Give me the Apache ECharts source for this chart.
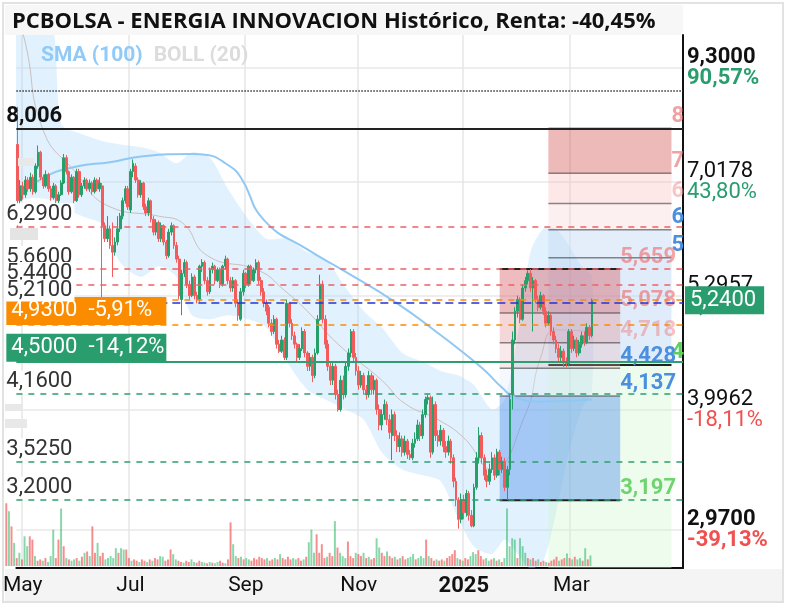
<!DOCTYPE html>
<html><head><meta charset="utf-8">
<script src="https://cdn.jsdelivr.net/npm/echarts@6/dist/echarts.min.js"></script>
<style>html,body{margin:0;padding:0;background:#fff}#c{width:786px;height:608px}</style>
</head><body><div id="c"></div>
<script>
// ---------- DATA ----------
const titleText = 'PCBOLSA - ENERGIA INNOVACION Histórico, Renta: -40,45%';
const startDate = [2024, 3, 29];
const holidays = ['2024-05-01', '2024-12-25', '2024-12-26', '2025-01-01'];
const totalSlots = 260;
const monthNames = {4: 'May', 6: 'Jul', 8: 'Sep', 10: 'Nov', 0: '2025', 2: 'Mar'};

// [open, close, low, high]
const ohlc = [
[7.70,6.70,6.10,8.45],[6.70,6.95,6.60,7.05],[6.95,6.80,6.72,7.02],[6.80,7.05,6.75,7.12],[7.05,6.90,6.85,7.10],
[6.90,7.10,6.85,7.18],[7.10,6.85,6.80,7.15],[6.85,7.30,6.82,7.35],[7.30,7.55,7.25,7.68],[7.55,7.10,7.05,7.58],
[7.10,6.95,6.90,7.15],[6.95,7.15,6.92,7.22],[7.15,6.90,6.85,7.18],[6.90,6.75,6.70,6.95],[6.75,6.95,6.72,7.00],
[6.95,6.70,6.65,6.98],[6.70,6.80,6.66,6.85],[6.80,7.00,6.78,7.05],[7.00,7.45,6.98,7.52],[7.45,7.20,7.15,7.50],
[7.20,6.85,6.80,7.22],[6.85,7.10,6.82,7.15],[7.10,6.70,6.65,7.12],[6.70,7.20,6.68,7.25],[7.20,6.80,6.75,7.25],
[6.80,6.95,6.76,7.00],[6.95,7.05,6.90,7.10],[7.05,6.90,6.86,7.08],[6.90,7.00,6.85,7.06],[7.00,6.85,6.80,7.03],
[6.85,7.05,6.82,7.10],[7.05,6.90,6.86,7.08],[6.90,7.00,6.85,7.10],[6.95,6.30,5.25,7.00],[6.30,6.10,6.05,6.35],
[6.10,6.25,6.05,6.45],[6.25,6.00,5.95,6.30],[6.00,5.90,5.55,6.35],[5.90,6.05,5.85,6.12],[6.05,6.25,6.00,6.45],
[6.25,6.45,6.20,6.50],[6.45,6.70,6.40,6.75],[6.70,6.90,6.65,6.95],[6.90,6.60,6.55,6.95],[6.55,7.20,6.50,7.25],
[7.20,7.35,7.10,7.42],[7.30,7.05,7.00,7.35],[7.05,6.80,6.75,7.10],[6.80,7.00,6.75,7.05],[7.00,6.60,6.55,7.02],
[6.60,6.50,6.45,6.65],[6.50,6.70,6.45,6.75],[6.70,6.40,6.35,6.72],[6.40,6.20,6.15,6.45],[6.20,6.35,6.15,6.40],
[6.35,6.10,6.05,6.38],[6.10,6.30,6.05,6.35],[6.30,6.05,6.00,6.32],[6.05,5.85,5.80,6.08],[5.85,6.20,5.82,6.25],
[6.20,6.30,6.15,6.35],[6.30,6.00,5.95,6.32],[6.00,5.80,5.75,6.05],[5.80,5.30,5.25,5.85],[5.25,5.60,5.05,5.65],
[5.60,5.75,5.55,5.80],[5.75,5.45,5.40,5.78],[5.45,5.30,5.25,5.50],[5.30,5.55,5.28,5.60],[5.55,5.30,5.25,5.58],
[5.30,5.25,5.20,5.35],[5.25,5.70,5.22,5.72],[5.70,5.75,5.62,5.80],[5.75,5.50,5.45,5.78],[5.50,5.35,5.30,5.55],
[5.35,5.65,5.32,5.68],[5.65,5.70,5.60,5.75],[5.70,5.50,5.45,5.72],[5.50,5.65,5.48,5.68],[5.65,5.45,5.40,5.68],
[5.45,5.70,5.42,5.72],[5.70,5.80,5.65,5.85],[5.80,5.50,5.45,5.82],[5.50,5.40,5.35,5.55],[5.40,5.50,5.35,5.55],
[5.50,5.20,5.15,5.52],[5.20,5.05,4.98,5.25],[5.00,5.35,4.98,5.40],[5.35,5.60,5.30,5.65],[5.60,5.45,5.40,5.62],
[5.45,5.70,5.42,5.72],[5.70,5.50,5.45,5.72],[5.50,5.65,5.48,5.68],[5.65,5.75,5.60,5.80],[5.75,5.50,5.45,5.78],
[5.50,5.35,5.30,5.55],[5.35,5.20,5.15,5.40],[5.20,5.10,5.05,5.25],[5.15,4.95,4.90,5.18],[4.95,4.85,4.80,5.00],
[4.85,5.00,4.82,5.05],[5.00,4.70,4.65,5.02],[4.70,4.62,4.60,4.75],[4.62,4.75,4.60,4.80],[4.75,4.55,4.52,4.78],
[4.55,5.20,4.52,5.25],[5.20,4.95,4.90,5.22],[4.95,4.80,4.75,5.00],[4.80,4.70,4.65,4.85],[4.70,4.55,4.50,4.72],
[4.55,4.65,4.52,4.70],[4.65,4.85,4.62,4.90],[4.85,4.60,4.55,4.88],[4.60,4.45,4.40,4.62],[4.45,4.55,4.40,4.60],
[4.55,4.35,4.28,4.58],[4.35,4.60,4.32,4.65],[4.60,5.00,4.58,5.05],[5.00,5.45,4.98,5.58],[5.45,5.00,4.95,5.50],
[5.00,4.70,4.65,5.05],[4.70,4.45,4.40,4.75],[4.45,4.30,4.25,4.50],[4.30,4.45,4.25,4.50],[4.45,4.15,4.10,4.48],
[4.15,4.00,3.98,4.20],[4.00,4.30,3.98,4.35],[4.30,4.15,4.10,4.35],[4.15,4.45,4.12,4.50],[4.45,4.60,4.40,4.65],
[4.60,4.85,4.55,4.88],[4.85,4.55,4.50,4.88],[4.55,4.40,4.35,4.60],[4.40,4.25,4.20,4.45],[4.25,4.35,4.22,4.40],
[4.35,4.20,4.15,4.38],[4.20,4.15,4.10,4.25],[4.15,4.35,4.12,4.40],[4.35,4.20,4.15,4.38],[4.20,4.30,4.15,4.35],
[4.30,4.00,3.95,4.32],[4.00,3.85,3.80,4.05],[3.85,3.95,3.80,4.00],[3.95,4.05,3.90,4.10],[4.05,3.90,3.85,4.08],
[3.90,3.78,3.72,3.95],[3.75,3.95,3.53,4.00],[3.95,3.75,3.70,3.98],[3.75,3.65,3.60,3.80],[3.65,3.72,3.60,3.78],
[3.72,3.60,3.56,3.75],[3.60,3.70,3.57,3.75],[3.70,3.58,3.54,3.72],[3.58,3.55,3.53,3.62],[3.55,3.68,3.53,3.72],
[3.68,3.72,3.64,3.78],[3.72,3.85,3.70,3.90],[3.85,3.75,3.70,3.88],[3.75,3.95,3.72,4.00],[3.95,4.10,3.92,4.13],
[4.10,4.12,4.05,4.15],[4.12,3.60,3.55,4.14],[3.60,4.05,3.58,4.13],[4.05,3.75,3.70,4.08],[3.75,3.70,3.65,3.80],
[3.70,3.80,3.66,3.85],[3.80,3.65,3.60,3.82],[3.65,3.60,3.55,3.70],[3.60,3.70,3.57,3.75],[3.70,3.55,3.50,3.72],
[3.55,3.35,3.30,3.58],[3.35,3.20,3.15,3.38],[3.20,3.05,2.98,3.22],[3.05,3.20,3.02,3.25],[3.20,3.10,3.05,3.24],
[3.10,3.25,3.07,3.28],[3.25,3.08,3.04,3.27],[3.08,3.00,2.99,3.12],[3.00,3.30,2.99,3.33],[3.30,3.55,3.28,3.60],
[3.55,3.75,3.50,3.83],[3.75,3.55,3.50,3.78],[3.55,3.40,3.36,3.58],[3.40,3.35,3.30,3.45],[3.35,3.45,3.32,3.50],
[3.45,3.55,3.42,3.60],[3.55,3.40,3.36,3.58],[3.40,3.60,3.38,3.63],[3.60,3.45,3.40,3.62],[3.45,3.52,3.42,3.56],
[3.52,3.30,3.27,3.55],[3.30,3.45,3.197,3.48],[3.45,4.10,3.40,4.15],[4.15,4.75,4.00,4.85],[4.75,5.10,4.70,5.15],
[5.10,5.25,5.02,5.30],[5.25,5.00,4.95,5.28],[5.00,5.40,4.98,5.45],[5.40,5.50,5.35,5.55],[5.50,5.60,5.45,5.64],
[5.60,5.40,5.35,5.659],[5.40,5.50,4.85,5.55],[5.50,5.25,5.20,5.52],[5.25,5.15,5.10,5.30],[5.15,5.30,5.12,5.35],
[5.30,5.10,5.05,5.32],[5.10,4.95,4.90,5.15],[4.95,5.05,4.92,5.10],[5.05,4.85,4.80,5.08],[4.85,4.75,4.70,4.90],
[4.75,4.65,4.60,4.80],[4.65,4.55,4.50,4.70],[4.55,4.62,4.50,4.68],[4.62,4.50,4.44,4.65],[4.50,4.48,4.44,4.55],
[4.48,4.85,4.45,4.88],[4.85,4.65,4.60,4.88],[4.65,4.75,4.62,4.80],[4.75,4.60,4.55,4.78],[4.60,4.70,4.57,4.75],
[4.70,4.80,4.66,4.85],[4.80,4.72,4.68,4.85],[4.72,4.90,4.70,4.95],[4.90,4.80,4.75,4.93],[4.80,5.24,4.78,5.26]
];

const volume = [
95,83,60,35,12,20,10,45,30,45,
40,15,8,10,8,12,6,15,55,12,
40,87,30,12,10,8,10,12,8,14,
20,22,15,60,20,35,15,20,10,12,
15,12,27,20,27,25,25,12,8,10,
8,6,10,8,6,10,8,12,10,15,
14,8,10,25,18,10,8,6,5,8,
6,10,6,5,8,6,5,4,6,5,
4,6,8,5,4,10,66,33,15,12,
14,10,12,10,8,12,10,14,12,10,
12,8,10,12,10,18,12,10,14,10,
12,10,12,8,10,14,36,55,20,48,
20,33,12,14,20,15,68,28,20,15,
12,37,15,12,20,18,15,20,12,14,
10,12,42,28,20,15,22,15,12,14,
10,12,15,10,12,14,18,10,12,15,
12,40,15,12,8,10,8,10,8,12,
15,18,24,12,10,8,12,10,15,21,
18,24,15,10,12,8,10,12,8,10,
6,12,87,30,42,40,12,42,30,20,
12,10,12,8,10,6,8,6,5,8,
10,14,8,10,12,19,12,10,14,10,
12,8,27,10,16
];

// indicator readings [slot index, price]
const sma100 = [[0,6.76],[10,7.09],[23,7.29],[36,7.37],[49,7.48],[68,7.52],[74,7.50],[81,7.35],[87,7.10],[96,6.39],[113,5.94],[127,5.64],[148,5.20],[164,4.83],[174,4.60],[182,4.41],[189,4.22],[194,4.12],[205,4.08],[224,4.10]];
const bollUpper = [[0,11],[13,10.5],[17,8.1],[25,7.9],[34,7.75],[40,7.7],[48,7.65],[55,7.55],[62,7.35],[68,7.55],[75,7.45],[82,6.9],[90,6.4],[97,6.1],[105,6.1],[113,5.9],[120,5.8],[128,5.4],[135,5.1],[142,4.9],[150,4.6],[158,4.5],[165,4.4],[172,4.35],[178,4.25],[185,4.0],[190,4.1],[195,4.8],[200,5.9],[205,6.25],[210,6.25],[215,6.0],[220,5.7],[224,5.55]];
const bollLower = [[0,6.75],[7,6.75],[14,6.7],[17,6.6],[25,6.45],[34,6.3],[40,5.75],[48,5.55],[55,5.7],[62,5.55],[68,5.05],[75,5.0],[82,5.05],[90,5.0],[97,4.9],[105,4.5],[113,4.2],[120,4.1],[128,4.0],[135,3.9],[142,3.6],[150,3.45],[158,3.4],[165,3.35],[172,3.05],[178,2.85],[185,2.8],[190,2.9],[195,2.8],[200,2.7],[205,2.75],[210,3.1],[215,3.6],[220,4.0],[224,4.2]];
const bollMid = [[0,10.5],[3,9.9],[10,7.97],[22,7.22],[36,6.6],[55,6.45],[64,6.35],[74,5.85],[94,5.64],[104,5.37],[113,5.1],[125,4.7],[142,4.3],[151,4.06],[164,3.9],[174,3.73],[185,3.45],[198,3.95],[204,4.55],[210,4.87],[224,4.85]];

// price levels
const blackLevel = 8.006;
const dottedLevel = 8.80;
const redLevels = [6.29, 5.66, 5.44];
const blueLevel = 5.21;
const greenLevels = [4.16, 3.525, 3.2];
const stopLevels = [4.93, 4.50];
const stopPct = ['-5,91%', '-14,12%'];
const lastPrice = 5.24;

// right axis ticks
const yTickVals = [2.97, 3.9962, 5.2957, 7.0178, 9.3];
const yTickPct = ['-39,13%', '-18,11%', '8,52%', '43,80%', '90,57%'];

// fibonacci tools: levels and slot ranges
const fibHighLevels = [8.006, 7.17, 6.654, 6.236, 5.818, 4.466];
const fibHighSlots = [206.6, 254.5];
const fibLowLevels = [5.659, 5.078, 4.718, 4.428, 4.137, 3.197];
const fibLowSlots = [188.2, 235.3];

// ---------- STYLES ----------
const GREEN = '#26a06b', RED = '#f25c5c', FONT = 'Roboto', FS = 22;
const fibHighBands = ['rgba(212,80,80,0.40)','rgba(248,180,180,0.32)','rgba(250,205,205,0.30)','rgba(200,222,246,0.50)','rgba(188,212,244,0.45)','rgba(205,245,205,0.35)'];
const fibHighLabelColors = ['rgba(230,100,100,0.6)','rgba(230,100,100,0.6)','rgba(240,150,150,0.55)','#4a8fe0','#4a8fe0','#5ccf5c'];
const fibLowBands = ['rgba(214,92,100,0.42)','rgba(225,130,140,0.32)','rgba(235,175,180,0.28)','rgba(225,235,245,0.35)','rgba(90,150,235,0.45)'];
const fibLowLabelColors = ['rgba(240,90,90,0.55)','rgba(240,90,90,0.55)','rgba(240,120,120,0.45)','#4a8fe0','#4a8fe0','#6fd36f'];

// ---------- BUILD ----------
const dates = [];
(function () {
  const d = new Date(Date.UTC(startDate[0], startDate[1], startDate[2]));
  while (dates.length < totalSlots) {
    const dow = d.getUTCDay();
    const s = d.toISOString().slice(0, 10);
    if (dow !== 0 && dow !== 6 && holidays.indexOf(s) < 0) dates.push(s);
    d.setUTCDate(d.getUTCDate() + 1);
  }
})();
const labelIdx = {};
for (let i = 1; i < 240; i++) {
  const m = +dates[i].slice(5, 7) - 1, pm = +dates[i - 1].slice(5, 7) - 1;
  if (m !== pm && monthNames[m] !== undefined) labelIdx[i] = monthNames[m];
}
const fmt = (v, n) => v.toFixed(n).replace('.', ',');

const volData = volume.map((v, i) => ({value: v, itemStyle: {color: ohlc[i][1] >= ohlc[i][0] ? 'rgba(38,180,100,0.55)' : 'rgba(242,92,92,0.7)'}}));

function labelLine(v, text, color, dash) {
  return {
    yAxis: v,
    lineStyle: {color: color, type: dash, width: 1.5},
    label: {show: true, position: 'insideStartTop', formatter: text, distance: [-12, 1],
      color: '#333', fontSize: FS, fontFamily: FONT, backgroundColor: '#fff', padding: [0, 2], lineHeight: 22}
  };
}
const marks = [];
marks.push({yAxis: dottedLevel, lineStyle: {color: '#333', type: 'dotted', width: 1.5}, label: {show: false}});
marks.push({yAxis: blackLevel, lineStyle: {color: '#222', type: 'solid', width: 2},
  label: {show: true, position: 'insideStartTop', formatter: fmt(blackLevel, 3), distance: [-10, 1], color: '#111', fontWeight: 'bold', fontSize: FS, fontFamily: FONT}});
redLevels.forEach(v => marks.push(labelLine(v, fmt(v, 4), '#f06060', [6, 6])));
greenLevels.forEach(v => marks.push(labelLine(v, fmt(v, 4), '#2e9e6e', [6, 6])));
marks.push({yAxis: stopLevels[1], lineStyle: {color: '#2e9e6e', type: 'solid', width: 2},
  label: {show: true, position: 'insideStartTop', formatter: fmt(stopLevels[1], 4) + '  ' + stopPct[1], distance: [-10, 0],
    color: '#fff', fontSize: FS, fontFamily: FONT, backgroundColor: '#2a9d6f', padding: [3, 5], width: 150, lineHeight: 22}});
marks.push({yAxis: stopLevels[0], lineStyle: {color: '#fb8c00', type: [6, 6], width: 1.5},
  label: {show: true, position: 'insideStartTop', formatter: fmt(stopLevels[0], 4) + '  ' + stopPct[0], distance: [-10, 0],
    color: '#fff', fontSize: FS, fontFamily: FONT, backgroundColor: '#fb8c00', padding: [3, 5], width: 150, lineHeight: 22}});
marks.push({yAxis: lastPrice, lineStyle: {color: '#fb8c00', type: [6, 6], width: 1.5},
  label: {show: true, position: 'end', formatter: fmt(lastPrice, 4), distance: 2,
    color: '#fff', fontSize: FS, fontFamily: FONT, backgroundColor: '#2a9d6f', padding: [3, 8, 3, 5], lineHeight: 22}});
marks.push(labelLine(blueLevel, fmt(blueLevel, 4), '#2233dd', [8, 5]));

function fibGroup(api, levels, slots, bands, labelColors, extendToMin) {
  const kids = [];
  const x0 = api.coord([slots[0], levels[0]])[0], x1 = api.coord([slots[1], levels[0]])[0];
  const ys = levels.map(v => api.coord([slots[0], v])[1]);
  if (extendToMin) ys.push(api.coord([slots[0], 2.704])[1]);
  for (let k = 0; k < ys.length - 1; k++) {
    kids.push({type: 'rect', shape: {x: x0, y: ys[k], width: x1 - x0, height: ys[k + 1] - ys[k]}, style: {fill: bands[k]}});
  }
  levels.forEach((v, k) => {
    const last = (k === 0 || k === levels.length - 1);
    kids.push({type: 'line', shape: {x1: x0, y1: ys[k], x2: x1, y2: ys[k]},
      style: {stroke: last ? '#222' : 'rgba(60,60,60,0.6)', lineWidth: last ? 2 : 1.5}});
    kids.push({type: 'text', x: x1, y: ys[k] - 1, style: {text: fmt(v, 3), fill: labelColors[k],
      font: 'bold ' + FS + 'px ' + FONT, align: 'left', verticalAlign: 'bottom'}});
  });
  return kids;
}

const option = {
  animation: false,
  backgroundColor: '#fff',
  title: {text: titleText, left: 7, top: 6, textStyle: {fontFamily: 'Open Sans', fontWeight: 'bold', fontSize: 22, color: '#111'}},
  legend: {left: 30, top: 40, itemWidth: 0, itemHeight: 0, itemGap: 6, selectedMode: false,
    textStyle: {fontSize: 21, fontWeight: 'bold', fontFamily: FONT},
    data: [{name: 'SMA (100)', textStyle: {color: '#90caf9'}}, {name: 'BOLL (20)', textStyle: {color: '#dcdcdc'}}]},
  graphic: [
    {type: 'rect', z: -10, shape: {x: 5, y: 5, width: 678, height: 30}, style: {fill: '#f7f7f7'}},
    {type: 'rect', z: -10, shape: {x: 5, y: 569, width: 778, height: 32}, style: {fill: '#f4f4f4'}},
    {type: 'rect', z: 100, shape: {x: 3, y: 3, width: 780, height: 599}, style: {fill: 'none', stroke: '#e2e2e2', lineWidth: 2}},
    {type: 'rect', z: 50, shape: {x: 10, y: 228, width: 28, height: 12}, style: {fill: '#e4e4e4'}},
    {type: 'rect', z: 50, shape: {x: 18, y: 158, width: 16, height: 8}, style: {fill: '#e8e8e8'}},
    {type: 'rect', z: 50, shape: {x: 5, y: 404, width: 18, height: 7}, style: {fill: '#e8e8e8'}},
    {type: 'rect', z: 50, shape: {x: 5, y: 419, width: 22, height: 9}, style: {fill: '#e8e8e8'}}
  ],
  grid: [
    {left: 5, right: 103, top: 35, bottom: 40},
    {left: 5, right: 103, top: 496, height: 70}
  ],
  xAxis: [
    {type: 'category', data: dates, gridIndex: 0, boundaryGap: true,
      axisLine: {lineStyle: {color: '#111', width: 2}}, axisTick: {show: false},
      axisLabel: {interval: (i) => labelIdx[i] !== undefined, margin: 7, color: '#111', fontSize: 21, fontFamily: FONT,
        alignMinLabel: 'center',
        formatter: (v, i) => labelIdx[i] === '2025' ? '{y|2025}' : (labelIdx[i] || ''),
        rich: {y: {fontWeight: 'bold', fontSize: 22, fontFamily: FONT, color: '#111'}}},
      splitLine: {show: true, interval: (i) => labelIdx[i] !== undefined, lineStyle: {color: '#e6e6e6', width: 1.5}}},
    {type: 'category', data: dates, gridIndex: 1, boundaryGap: true, show: false}
  ],
  yAxis: [
    {type: 'log', gridIndex: 0, position: 'right', min: 2.704, max: 10.09, logBase: 10,
      axisLine: {show: true, lineStyle: {color: '#111', width: 2}},
      axisTick: {show: false, customValues: yTickVals},
      splitLine: {show: true, lineStyle: {color: '#e8e8e8', width: 1.5}},
      axisLabel: {customValues: yTickVals, margin: 4, fontFamily: FONT,
        formatter: function (val) {
          let k = 0;
          yTickVals.forEach((t, j) => { if (Math.abs(t - val) < Math.abs(yTickVals[k] - val)) k = j; });
          const bold = (k === 0 || k === yTickVals.length - 1) ? 'b' : '';
          const pc = yTickPct[k].charAt(0) === '-' ? 'r' : 'g';
          return '{v' + bold + '|' + fmt(yTickVals[k], 4) + '}\n{' + pc + bold + '|' + yTickPct[k] + '}';
        },
        rich: {
          v: {fontSize: FS, color: '#111', fontFamily: FONT, lineHeight: 21},
          vb: {fontSize: FS, color: '#111', fontFamily: FONT, fontWeight: 'bold', lineHeight: 21},
          g: {fontSize: FS, color: '#2a9d6f', fontFamily: FONT, lineHeight: 21},
          gb: {fontSize: FS, color: '#2a9d6f', fontFamily: FONT, fontWeight: 'bold', lineHeight: 21},
          r: {fontSize: FS, color: '#f05050', fontFamily: FONT, lineHeight: 21},
          rb: {fontSize: FS, color: '#f05050', fontFamily: FONT, fontWeight: 'bold', lineHeight: 21}
        }}},
    {type: 'value', gridIndex: 1, max: 106, show: false}
  ],
  series: [
    {name: 'BOLL (20)', type: 'custom', xAxisIndex: 0, yAxisIndex: 0, clip: true, z: 1, data: [[0, 5]],
      itemStyle: {color: '#dcdcdc'},
      renderItem: function (params, api) {
        const pts = bollUpper.map(p => api.coord(p)).concat(bollLower.slice().reverse().map(p => api.coord(p)));
        return {type: 'polygon', shape: {points: pts, smooth: 0.25}, style: {fill: 'rgba(170,215,250,0.35)'}};
      }},
    {name: 'BOLL mid', type: 'line', data: bollMid, smooth: true, symbol: 'none', z: 1,
      lineStyle: {color: '#c9bfbf', width: 1}},
    {name: 'SMA (100)', type: 'line', data: sma100, smooth: true, symbol: 'none', z: 2,
      itemStyle: {color: '#90caf9'}, lineStyle: {color: '#90c8f4', width: 2}},
    {name: 'fib', type: 'custom', clip: true, z: 2, data: [[0, 5]],
      renderItem: function (params, api) {
        const kids = fibGroup(api, fibHighLevels, fibHighSlots, fibHighBands, fibHighLabelColors, true)
          .concat(fibGroup(api, fibLowLevels, fibLowSlots, fibLowBands, fibLowLabelColors, false));
        return {type: 'group', children: kids};
      }},
    {name: 'price', type: 'candlestick', data: ohlc, z: 3, barWidth: '90%',
      itemStyle: {color: GREEN, color0: RED, borderColor: GREEN, borderColor0: RED, borderWidth: 1},
      markLine: {symbol: ['none', 'none'], silent: true, animation: false, data: marks}},
    {name: 'vol', type: 'bar', xAxisIndex: 1, yAxisIndex: 1, data: volData, barWidth: '75%', z: 2}
  ]
};
const chart = echarts.init(document.getElementById('c'), null, {renderer: 'canvas'});
chart.setOption(option);
</script></body></html>
